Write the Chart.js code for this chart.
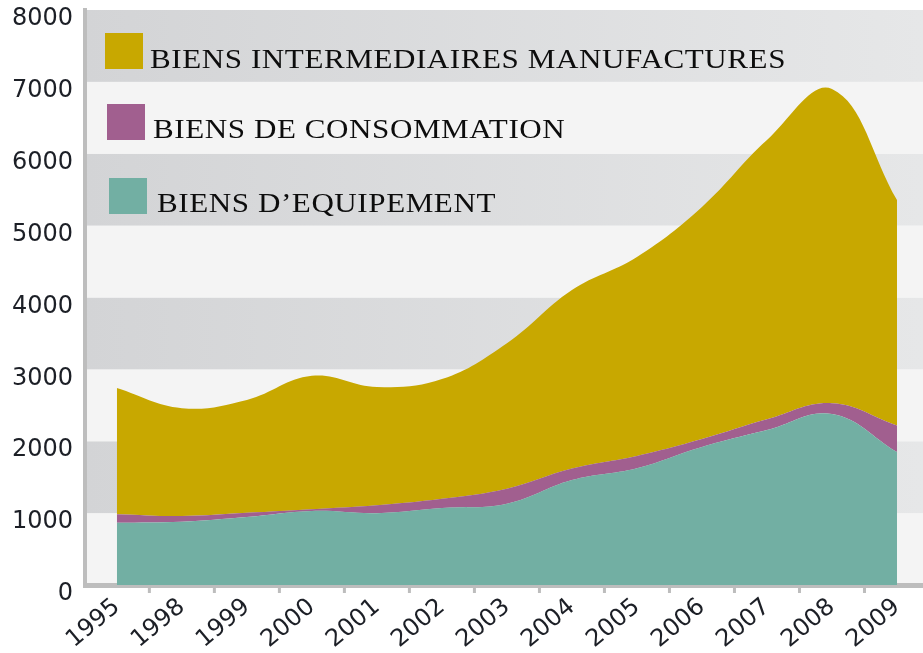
<!DOCTYPE html>
<html>
<head>
<meta charset="utf-8">
<script src="https://cdn.jsdelivr.net/npm/chart.js@4.4.1/dist/chart.umd.min.js"></script>
<style>
  html, body { margin: 0; padding: 0; background: #fff; }
</style>
</head>
<body>
<canvas id="myChart" width="923" height="653"></canvas>
<script>
// valeurs (empilées)
const years = ['1995', '1998', '1999', '2000', '2001', '2002', '2003', '2004', '2005', '2006', '2007', '2008', '2009'];
const equipement = [865, 880, 945, 1030, 1000, 1070, 1130, 1460, 1625, 1920, 2155, 2380, 1850];
const consommation = [120, 80, 60, 25, 110, 130, 210, 160, 170, 110, 150, 150, 370];
const intermediaires = [1755, 1500, 1570, 1855, 1645, 1665, 2025, 2485, 2770, 3230, 3885, 4370, 3135];
const seriesNames = ['BIENS D\u2019EQUIPEMENT', 'BIENS DE CONSOMMATION', 'BIENS INTERMEDIAIRES MANUFACTURES'];
const seriesColors = ['#72afa3', '#a15f8f', '#c8a800'];
const yTicks = [0, 1000, 2000, 3000, 4000, 5000, 6000, 7000, 8000];

const toPoints = (arr) => arr.map((v, i) => ({x: i, y: v}));

const axisFont = {family: '"DejaVu Sans"', size: 24};

// bandes grises / claires derriere le graphique
const bandsPlugin = {
    id: 'bands',
    beforeDraw(chart) {
        const {ctx, chartArea, scales} = chart;
        const y = scales.y;
        for (let i = 0; i < yTicks.length - 1; i++) {
            const top = y.getPixelForValue(yTicks[i + 1]);
            const bottom = y.getPixelForValue(yTicks[i]);
            if (i % 2 === 1) {
                const g = ctx.createLinearGradient(chartArea.left, 0, chartArea.right, 0);
                g.addColorStop(0, '#d3d4d6');
                g.addColorStop(1, '#e6e7e8');
                ctx.fillStyle = g;
            } else {
                ctx.fillStyle = '#f4f4f4';
            }
            ctx.fillRect(chartArea.left, top, chartArea.right - chartArea.left, bottom - top);
        }
    },
    afterDraw(chart) {
        const {ctx, chartArea, scales} = chart;
        const x = scales.x;
        // petits traits entre les annees
        ctx.save();
        ctx.fillStyle = '#bdbdbd';
        for (let i = 0; i < years.length - 1; i++) {
            const px = x.getPixelForValue(i + 0.5);
            ctx.fillRect(px - 1.5, chartArea.bottom, 3, 8);
        }
        ctx.restore();

        // legende dans le haut du graphique
        const rows = [
            {ds: 2, bx: 105, by: 33, tx: 150, ty: 68},
            {ds: 1, bx: 107, by: 104, tx: 153, ty: 138},
            {ds: 0, bx: 109, by: 178, tx: 157, ty: 212}
        ];
        rows.forEach(r => {
            ctx.save();
            ctx.fillStyle = seriesColors[r.ds];
            ctx.fillRect(r.bx, r.by, 38, 36);
            // texte un peu etire comme sur l'original
            ctx.translate(r.tx, r.ty);
            ctx.scale(1.15, 1);
            ctx.font = '27px "Liberation Serif"';
            ctx.letterSpacing = '0.5px';
            ctx.textBaseline = 'alphabetic';
            ctx.fillStyle = '#0d0d0d';
            ctx.fillText(seriesNames[r.ds], 0, 0);
            ctx.restore();
        });
    }
};

const ctx = document.getElementById('myChart').getContext('2d');

const myChart = new Chart(ctx, {
    type: 'line',
    data: {
        datasets: [
            {label: seriesNames[0], data: toPoints(equipement), backgroundColor: seriesColors[0], fill: 'origin'},
            {label: seriesNames[1], data: toPoints(consommation), backgroundColor: seriesColors[1], fill: '-1'},
            {label: seriesNames[2], data: toPoints(intermediaires), backgroundColor: seriesColors[2], fill: '-1'}
        ]
    },
    options: {
        responsive: false,
        animation: false,
        layout: {padding: {top: 10, right: 0, left: 0, bottom: 0}},
        elements: {
            point: {radius: 0},
            line: {borderWidth: 0, tension: 0.4}
        },
        plugins: {
            legend: {display: false},
            tooltip: {enabled: false}
        },
        scales: {
            x: {
                type: 'linear',
                min: -0.49,
                max: 12.4,
                grid: {display: false, drawTicks: false},
                border: {color: '#bdbdbd', width: 5},
                ticks: {
                    stepSize: 1,
                    includeBounds: false,
                    autoSkip: false,
                    minRotation: 40,
                    maxRotation: 40,
                    padding: 8,
                    font: axisFont,
                    color: '#1c1f26',
                    callback: (v) => years[v] !== undefined ? years[v] : ''
                },
                afterFit(scale) {
                    scale.height = 68;
                    scale.paddingLeft = 0;
                    scale.paddingRight = 0;
                }
            },
            y: {
                stacked: true,
                min: 0,
                max: 8000,
                grid: {display: false, drawTicks: false},
                border: {color: '#bdbdbd', width: 4},
                ticks: {
                    stepSize: 1000,
                    labelOffset: 9,
                    padding: 12,
                    font: axisFont,
                    color: '#1c1f26',
                    callback: (v) => String(v)
                },
                afterFit(scale) {
                    scale.width = 85;
                    scale.paddingTop = 0;
                    scale.paddingBottom = 0;
                }
            }
        }
    },
    plugins: [bandsPlugin]
});
</script>
</body>
</html>
